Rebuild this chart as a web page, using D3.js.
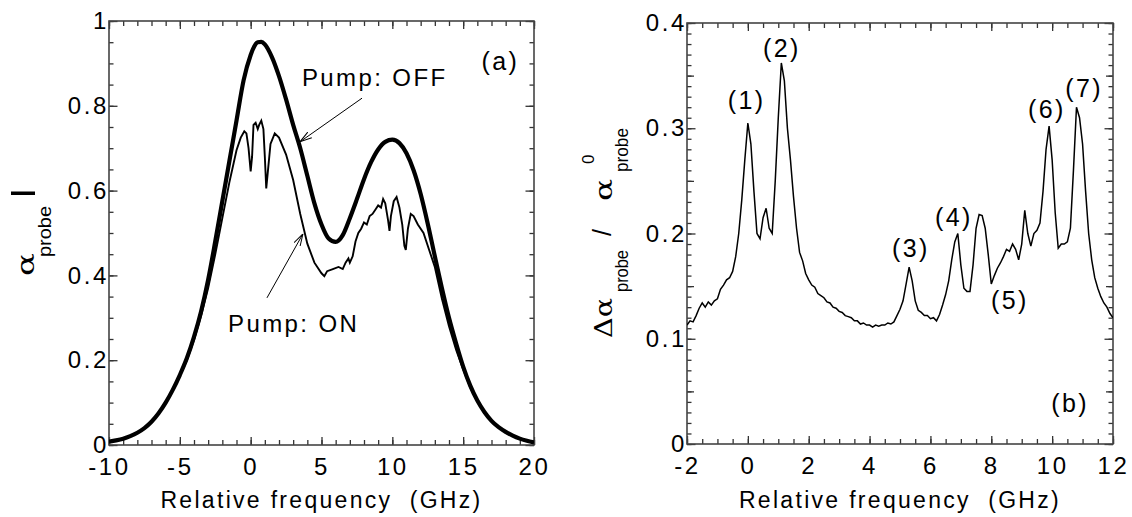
<!DOCTYPE html>
<html><head><meta charset="utf-8">
<script src="https://cdn.jsdelivr.net/npm/d3@7"></script>
<style>
body{margin:0;background:#fff;}
text{font-family:"Liberation Sans",Arial,sans-serif;fill:#000;}
</style></head><body>
<svg id="c" width="1132" height="517"></svg>
<script>
// ---------- Panel (a) data ----------
const offFreq = [-10,-9.5,-9,-8.5,-8,-7.5,-7,-6.5,-6,-5.5,-5,-4.5,-4,-3.5,-3,-2.5,-2,-1.5,-1,-0.5,0,0.25,0.5,0.75,1,1.5,2,2.5,3,3.5,4,4.5,5,5.5,6,6.5,7,7.5,8,8.5,9,9.5,10,10.5,11,11.5,12,12.5,13,13.5,14,14.5,15,15.5,16,16.5,17,17.5,18,18.5,19,19.5,20];
const offAlpha = [0.008,0.011,0.015,0.021,0.029,0.04,0.055,0.075,0.1,0.13,0.165,0.205,0.255,0.315,0.39,0.48,0.575,0.67,0.765,0.86,0.92,0.94,0.95,0.951,0.945,0.915,0.87,0.815,0.755,0.7,0.635,0.57,0.52,0.487,0.479,0.495,0.535,0.58,0.627,0.667,0.697,0.715,0.72,0.712,0.688,0.648,0.592,0.522,0.445,0.37,0.3,0.24,0.185,0.14,0.105,0.078,0.057,0.042,0.031,0.022,0.015,0.01,0.006];

const onFreq = [-10,-9.5,-9,-8.5,-8,-7.5,-7,-6.5,-6,-5.5,-5,-4.5,-4,-3.5,-3,-2.5,-2,-1.5,-1.2,-1,-0.7,-0.45,-0.3,-0.15,0,0.1,0.2,0.35,0.5,0.6,0.75,0.9,1.0,1.1,1.2,1.4,1.7,2,2.5,3,3.5,4,4.5,5,5.2,5.4,5.8,6.2,6.5,6.7,6.9,7.0,7.2,7.4,7.6,7.8,8.0,8.2,8.4,8.6,8.8,9.0,9.2,9.35,9.5,9.7,9.8,9.9,10.1,10.3,10.5,10.7,10.85,10.95,11.1,11.3,11.5,11.8,12.2,12.6,13,13.5,14,14.5,15,15.5,16,16.5,17,17.5,18,18.5,19,19.5,20];
const onAlpha = [0.008,0.011,0.015,0.021,0.029,0.04,0.055,0.075,0.1,0.13,0.163,0.2,0.248,0.305,0.37,0.45,0.535,0.62,0.665,0.695,0.725,0.74,0.735,0.7,0.645,0.68,0.755,0.76,0.745,0.755,0.765,0.745,0.68,0.605,0.64,0.71,0.735,0.725,0.685,0.625,0.545,0.475,0.43,0.405,0.398,0.41,0.415,0.42,0.415,0.43,0.44,0.43,0.445,0.48,0.5,0.51,0.525,0.52,0.54,0.545,0.555,0.565,0.56,0.58,0.57,0.53,0.505,0.54,0.575,0.585,0.56,0.52,0.47,0.46,0.51,0.545,0.54,0.52,0.5,0.46,0.42,0.345,0.28,0.225,0.178,0.136,0.103,0.077,0.056,0.041,0.03,0.021,0.014,0.009,0.006];

const aXTicks = [-10,-5,0,5,10,15,20];
const aXTickLabels = ["-10","-5","0","5","10","15","20"];
const aYTicks = [0,0.2,0.4,0.6,0.8,1];
const aYTickLabels = ["0","0.2","0.4","0.6","0.8","1"];

// ---------- Panel (b) data ----------
const bFreq = [-2.0,-1.9,-1.8,-1.7,-1.6,-1.5,-1.4,-1.3,-1.2,-1.1,-1.0,-0.9,-0.8,-0.7,-0.6,-0.5,-0.4,-0.3,-0.2,-0.1,0.0,0.1,0.2,0.3,0.4,0.5,0.6,0.7,0.8,0.9,1.0,1.1,1.2,1.3,1.4,1.5,1.6,1.7,1.8,1.9,2.0,2.1,2.2,2.3,2.4,2.5,2.6,2.7,2.8,2.9,3.0,3.1,3.2,3.3,3.4,3.5,3.6,3.7,3.8,3.9,4.0,4.1,4.2,4.3,4.4,4.5,4.6,4.7,4.8,4.9,5.0,5.1,5.2,5.3,5.4,5.5,5.6,5.7,5.8,5.9,6.0,6.1,6.2,6.3,6.4,6.5,6.6,6.7,6.8,6.9,7.0,7.1,7.2,7.3,7.4,7.5,7.6,7.7,7.8,7.9,8.0,8.1,8.2,8.3,8.4,8.5,8.6,8.7,8.8,8.9,9.0,9.1,9.2,9.3,9.4,9.5,9.6,9.7,9.8,9.9,10.0,10.1,10.2,10.3,10.4,10.5,10.6,10.7,10.8,10.9,11.0,11.1,11.2,11.3,11.4,11.5,11.6,11.7,11.8,11.9,12.0];
const bRatio = [0.113,0.117,0.116,0.122,0.129,0.134,0.13,0.135,0.132,0.136,0.138,0.147,0.151,0.156,0.158,0.164,0.178,0.2,0.232,0.27,0.305,0.285,0.24,0.2,0.195,0.215,0.224,0.205,0.2,0.25,0.31,0.362,0.345,0.3,0.27,0.235,0.205,0.182,0.174,0.162,0.156,0.151,0.149,0.143,0.141,0.139,0.135,0.134,0.13,0.129,0.126,0.125,0.122,0.121,0.12,0.117,0.117,0.114,0.115,0.113,0.113,0.111,0.113,0.112,0.113,0.113,0.115,0.114,0.116,0.122,0.128,0.136,0.152,0.168,0.155,0.136,0.127,0.125,0.122,0.122,0.119,0.12,0.117,0.123,0.132,0.142,0.155,0.175,0.192,0.2,0.17,0.148,0.145,0.145,0.17,0.205,0.218,0.217,0.205,0.18,0.152,0.16,0.167,0.172,0.178,0.185,0.183,0.19,0.185,0.175,0.19,0.222,0.2,0.188,0.2,0.203,0.21,0.24,0.28,0.302,0.27,0.22,0.186,0.19,0.19,0.192,0.205,0.26,0.32,0.31,0.285,0.24,0.2,0.175,0.158,0.148,0.14,0.134,0.13,0.124,0.12];

const bXTicks = [-2,0,2,4,6,8,10,12];
const bXTickLabels = ["-2","0","2","4","6","8","10","12"];
const bYTicks = [0,0.1,0.2,0.3,0.4];
const bYTickLabels = ["0","0.1","0.2","0.3","0.4"];

const peakLabels = ["(1)","(2)","(3)","(4)","(5)","(6)","(7)"];
const peakLabelFreq = [-0.04,1.12,5.36,6.77,8.61,9.83,11.05];
const peakLabelVal = [0.318,0.368,0.178,0.207,0.128,0.31,0.33];

// ---------- Drawing ----------
const svg = d3.select("#c");
const xa = d3.scaleLinear().domain([-10,20]).range([109,534]);
const ya = d3.scaleLinear().domain([0,1]).range([445,21]);
const xb = d3.scaleLinear().domain([-2,12]).range([687,1113]);
const yb = d3.scaleLinear().domain([0,0.4]).range([444,23]);

const FS = 24, LS = "2.6px";

function frame(x, y, xMajor, xLabels, xMinor, yMajor, yLabels, yMinor, yMid, id){
  const [x0,x1] = x.range(), [y1,y0] = y.range();
  const g = svg.append("g").attr("color","#333");
  const clean = s => { s.select(".domain").remove(); s.selectAll("line").attr("stroke-width",1.3); };
  const lab = s => s.selectAll("text").style("font-size",FS+"px").style("letter-spacing",LS).attr("fill","#000");
  g.append("g").attr("transform",`translate(0,${y1})`).call(d3.axisBottom(x).tickValues(xMinor).tickSize(-5).tickFormat("")).call(clean);
  g.append("g").attr("transform",`translate(0,${y1})`).call(d3.axisBottom(x).tickValues(xMajor).tickSize(-8).tickPadding(13).tickFormat((d,i)=>xLabels[i])).call(clean).call(lab);
  g.append("g").attr("transform",`translate(0,${y0})`).call(d3.axisTop(x).tickValues(xMinor).tickSize(-5).tickFormat("")).call(clean);
  g.append("g").attr("transform",`translate(0,${y0})`).call(d3.axisTop(x).tickValues(xMajor).tickSize(-8).tickFormat("")).call(clean);
  g.append("g").attr("transform",`translate(${x0},0)`).call(d3.axisLeft(y).tickValues(yMinor).tickSize(-4.5).tickFormat("")).call(clean);
  if (yMid) g.append("g").attr("transform",`translate(${x0},0)`).call(d3.axisLeft(y).tickValues(yMid).tickSize(-7).tickFormat("")).call(clean);
  g.append("g").attr("transform",`translate(${x0},0)`).call(d3.axisLeft(y).tickValues(yMajor).tickSize(-8.5).tickPadding(0).tickFormat((d,i)=>yLabels[i])).call(clean).call(lab);
  g.append("g").attr("transform",`translate(${x1},0)`).call(d3.axisRight(y).tickValues(yMinor).tickSize(-4.5).tickFormat("")).call(clean);
  if (yMid) g.append("g").attr("transform",`translate(${x1},0)`).call(d3.axisRight(y).tickValues(yMid).tickSize(-7).tickFormat("")).call(clean);
  g.append("g").attr("transform",`translate(${x1},0)`).call(d3.axisRight(y).tickValues(yMajor).tickSize(-8.5).tickFormat("")).call(clean);
  g.append("rect").attr("x",x0).attr("y",y0).attr("width",x1-x0).attr("height",y1-y0)
    .attr("fill","none").attr("stroke","#444").attr("stroke-width",1.6);
  svg.append("clipPath").attr("id",id).append("rect").attr("x",x0).attr("y",y0).attr("width",x1-x0).attr("height",y1-y0);
  svg.append("text").attr("x",(x0+x1)/2).attr("y",508).attr("text-anchor","middle")
    .style("font-size","23px").style("letter-spacing","2.3px").attr("xml:space","preserve").text("Relative frequency  (GHz)");
}

const range = (a,b,s)=>d3.range(Math.round((b-a)/s)+1).map(i=>+(a+i*s).toFixed(4));
frame(xa, ya, aXTicks, aXTickLabels, range(-10,20,1), aYTicks, aYTickLabels, range(0,1,0.05), null, "ca");
frame(xb, yb, bXTicks, bXTickLabels, range(-2,12,0.5), bYTicks, bYTickLabels, range(0,0.4,0.01), [0.05,0.15,0.25,0.35], "cb");

// curves
const lineA = d3.line().x(d=>xa(d[0])).y(d=>ya(d[1])).curve(d3.curveMonotoneX);
const lineAon = d3.line().x(d=>xa(d[0])).y(d=>ya(d[1])).curve(d3.curveLinear);
svg.append("path").attr("clip-path","url(#ca)").attr("d",lineA(d3.zip(offFreq,offAlpha)))
  .attr("fill","none").attr("stroke","#000").attr("stroke-width",4.2);
svg.append("path").attr("clip-path","url(#ca)").attr("d",lineAon(d3.zip(onFreq,onAlpha)))
  .attr("fill","none").attr("stroke","#000").attr("stroke-width",1.9);

const lineB = d3.line().x(d=>xb(d[0])).y(d=>yb(d[1])).curve(d3.curveLinear);
svg.append("path").attr("clip-path","url(#cb)").attr("d",lineB(d3.zip(bFreq,bRatio)))
  .attr("fill","none").attr("stroke","#000").attr("stroke-width",1.5);

// annotations panel (a)
const ann = (x,y,txt,anchor,size)=>svg.append("text").attr("x",x).attr("y",y).attr("text-anchor",anchor||"start")
  .style("font-size",(size||FS)+"px").style("letter-spacing","2.4px").text(txt);
ann(xa(3.62), ya(0.847), "Pump: OFF");
ann(xa(-1.6), ya(0.267), "Pump: ON");
ann(xa(16.3), ya(0.885), "(a)", "start", 25);

svg.append("defs").append("marker").attr("id","arr").attr("viewBox","0 0 12 8").attr("refX",12).attr("refY",4)
  .attr("markerWidth",12).attr("markerHeight",8).attr("markerUnits","userSpaceOnUse").attr("orient","auto")
  .append("path").attr("d","M0,0.5 L12,4 L0,7.5").attr("fill","none").attr("stroke","#000").attr("stroke-width",1);
const arrow = (fx,fy,tx,ty)=>svg.append("line").attr("x1",xa(fx)).attr("y1",ya(fy)).attr("x2",xa(tx)).attr("y2",ya(ty))
  .attr("stroke","#000").attr("stroke-width",1).attr("marker-end","url(#arr)");
arrow(7.86,0.818,3.48,0.715);
arrow(1.15,0.347,3.69,0.498);

// annotations panel (b)
peakLabels.forEach((t,i)=>ann(xb(peakLabelFreq[i]), yb(peakLabelVal[i]), t, "middle", 25));
ann(xb(10.59), yb(0.03), "(b)", "middle", 25);

// y titles (rotated)
const serif = "'DejaVu Serif',serif";
const ga = svg.append("g").attr("transform","rotate(-90)");
ga.append("text").attr("x",-276).attr("y",34).style("font-family",serif).style("font-size","25px")
  .attr("textLength",23).attr("lengthAdjust","spacingAndGlyphs").text("α");
ga.append("text").attr("x",-257).attr("y",51).style("font-size","19px")
  .attr("textLength",51).attr("lengthAdjust","spacingAndGlyphs").text("probe");
ga.append("rect").attr("x",-195).attr("y",11).attr("width",3.5).attr("height",24).attr("fill","#000");

const gb = svg.append("g").attr("transform","rotate(-90)");
gb.append("text").attr("x",-338).attr("y",612).style("font-family",serif).style("font-size","25px")
  .attr("textLength",40).attr("lengthAdjust","spacingAndGlyphs").text("Δα");
gb.append("text").attr("x",-292).attr("y",628).style("font-size","19px")
  .attr("textLength",42).attr("lengthAdjust","spacingAndGlyphs").text("probe");
gb.append("text").attr("x",-236).attr("y",611).style("font-size","25px").text("/");
gb.append("text").attr("x",-201).attr("y",612).style("font-family",serif).style("font-size","25px")
  .attr("textLength",22).attr("lengthAdjust","spacingAndGlyphs").text("α");
gb.append("text").attr("x",-164).attr("y",594).style("font-size","17px").text("0");
gb.append("text").attr("x",-172).attr("y",628).style("font-size","19px")
  .attr("textLength",44).attr("lengthAdjust","spacingAndGlyphs").text("probe");
</script>
</body></html>
